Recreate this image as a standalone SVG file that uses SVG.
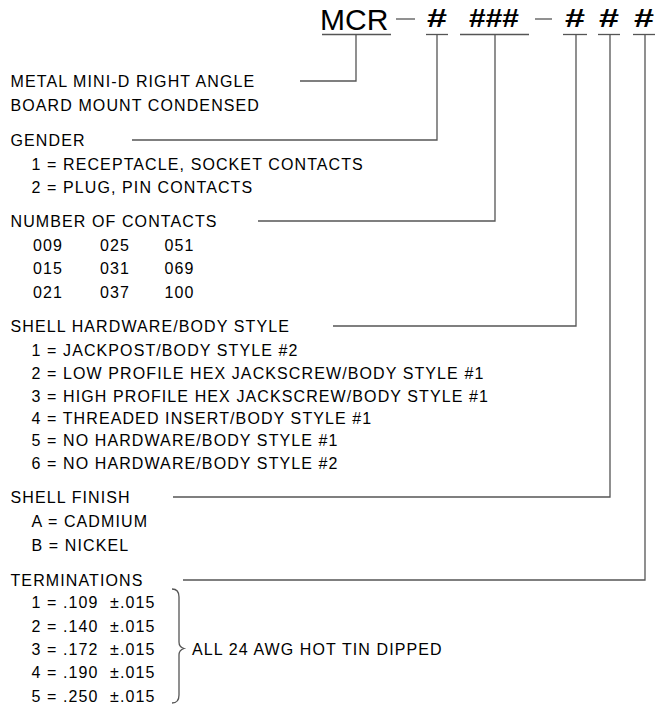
<svg xmlns="http://www.w3.org/2000/svg" width="656" height="706" viewBox="0 0 656 706">
<style>
text{font-family:"Liberation Sans",Arial,sans-serif;fill:#000}
.t{font-size:16px;letter-spacing:1.1px}
.big{font-size:30px}
.h{font-size:25px;font-weight:bold}
.ln{stroke:#555;stroke-width:1.3;fill:none}
</style>
<rect width="656" height="706" fill="#fff"/>
<g id="code">
<text class="big" x="320" y="29.5">MCR</text>
<text class="h" x="427" y="27" textLength="20" lengthAdjust="spacingAndGlyphs">#</text>
<text class="h" x="469" y="27" textLength="50" lengthAdjust="spacingAndGlyphs">###</text>
<text class="h" x="565" y="27" textLength="20" lengthAdjust="spacingAndGlyphs">#</text>
<text class="h" x="599" y="27" textLength="20" lengthAdjust="spacingAndGlyphs">#</text>
<text class="h" x="634" y="27" textLength="20" lengthAdjust="spacingAndGlyphs">#</text>
</g>
<g id="connectors" class="ln">
<line x1="396" y1="19" x2="415" y2="19"/>
<line x1="535" y1="19" x2="552" y2="19"/>
<line x1="322" y1="34.5" x2="391" y2="34.5"/>
<line x1="426" y1="34.5" x2="448" y2="34.5"/>
<line x1="460" y1="34.5" x2="529" y2="34.5"/>
<line x1="563" y1="34.5" x2="587" y2="34.5"/>
<line x1="598" y1="34.5" x2="620" y2="34.5"/>
<line x1="633" y1="34.5" x2="655" y2="34.5"/>
<polyline points="300,81 356,81 356,34.5"/>
<polyline points="132,140 437,140 437,34.5"/>
<polyline points="258,221 495,221 495,34.5"/>
<polyline points="333,326 576,326 576,34.5"/>
<polyline points="173,497 610,497 610,34.5"/>
<polyline points="183,580 645,580 645,34.5"/>
</g>
<g id="series">
<text class="t" x="10.5" y="87">METAL MINI-D RIGHT ANGLE</text>
<text class="t" x="10.5" y="111">BOARD MOUNT CONDENSED</text>
</g>
<g id="gender">
<text class="t" x="10.5" y="146">GENDER</text>
<text class="t" x="31.5" y="169.5">1 = RECEPTACLE, SOCKET CONTACTS</text>
<text class="t" x="31.5" y="193">2 = PLUG, PIN CONTACTS</text>
</g>
<g id="contacts">
<text class="t" x="10.5" y="227">NUMBER OF CONTACTS</text>
<text class="t" y="250.5"><tspan x="33">009</tspan><tspan x="100">025</tspan><tspan x="164.5">051</tspan></text>
<text class="t" y="274"><tspan x="33">015</tspan><tspan x="100">031</tspan><tspan x="164.5">069</tspan></text>
<text class="t" y="297.5"><tspan x="33">021</tspan><tspan x="100">037</tspan><tspan x="164.5">100</tspan></text>
</g>
<g id="hardware">
<text class="t" x="10.5" y="332">SHELL HARDWARE/BODY STYLE</text>
<text class="t" x="31.5" y="355.5">1 = JACKPOST/BODY STYLE #2</text>
<text class="t" x="31.5" y="378.5">2 = LOW PROFILE HEX JACKSCREW/BODY STYLE #1</text>
<text class="t" x="31.5" y="401.5">3 = HIGH PROFILE HEX JACKSCREW/BODY STYLE #1</text>
<text class="t" x="31.5" y="424">4 = THREADED INSERT/BODY STYLE #1</text>
<text class="t" x="31.5" y="446">5 = NO HARDWARE/BODY STYLE #1</text>
<text class="t" x="31.5" y="468.5">6 = NO HARDWARE/BODY STYLE #2</text>
</g>
<g id="finish">
<text class="t" x="10.5" y="503">SHELL FINISH</text>
<text class="t" x="31.5" y="527">A = CADMIUM</text>
<text class="t" x="31.5" y="551">B = NICKEL</text>
</g>
<g id="terminations">
<text class="t" x="10.5" y="585.5">TERMINATIONS</text>
<text class="t" y="608"><tspan x="31.5">1 = .109</tspan><tspan x="110">±.015</tspan></text>
<text class="t" y="631.5"><tspan x="31.5">2 = .140</tspan><tspan x="110">±.015</tspan></text>
<text class="t" y="655"><tspan x="31.5">3 = .172</tspan><tspan x="110">±.015</tspan></text>
<text class="t" y="678"><tspan x="31.5">4 = .190</tspan><tspan x="110">±.015</tspan></text>
<text class="t" y="701.5"><tspan x="31.5">5 = .250</tspan><tspan x="110">±.015</tspan></text>
<path class="ln" d="M172,589 Q179,589 179,597 L179,642 Q179,647 184,648.5 Q179,650 179,655 L179,695 Q179,703 172,703"/>
<text class="t" x="192" y="655">ALL 24 AWG HOT TIN DIPPED</text>
</g>
</svg>
